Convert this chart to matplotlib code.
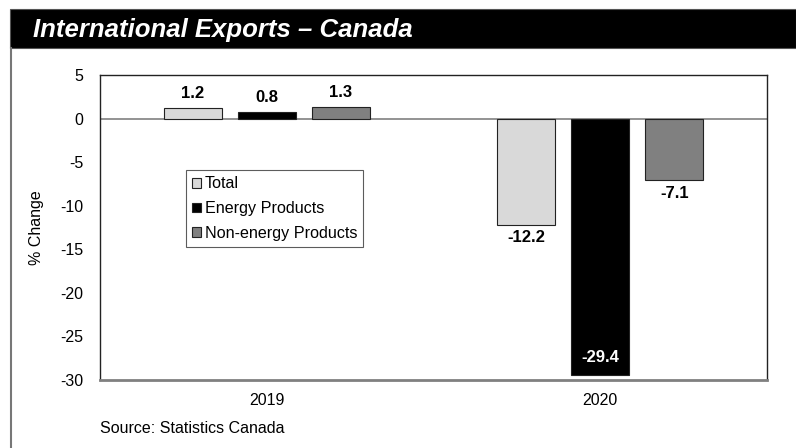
import matplotlib.pyplot as plt
import numpy as np
from matplotlib.patches import Rectangle
from matplotlib.lines import Line2D

plt.rcParams['font.family'] = ['Liberation Sans', 'DejaVu Sans']
plt.rcParams['axes.unicode_minus'] = False

years = ['2019', '2020']
series = ['Total', 'Energy Products', 'Non-energy Products']
total = [1.2, -12.2]
energy = [0.8, -29.4]
non_energy = [1.3, -7.1]
yticks = [5, 0, -5, -10, -15, -20, -25, -30]

colors = ['#d9d9d9', '#000000', '#808080']
W, H = 796, 448
fig = plt.figure(figsize=(W / 100, H / 100), dpi=100)

# title band and left frame line
fig.patches.append(Rectangle((10 / W, 1 - 48 / H), (W - 10) / W, 39 / H,
                             transform=fig.transFigure, facecolor='black',
                             edgecolor='#555555', lw=0.8))
fig.lines.append(Line2D([11 / W, 11 / W], [0, 1 - 48 / H], transform=fig.transFigure,
                        color='#777777', lw=1.5))
fig.text(33 / W, 1 - 30 / H, 'International Exports \u2013 Canada', color='white',
         fontsize=18.5, fontweight='bold', fontstyle='italic', va='center', ha='left')

ax = fig.add_axes([100 / W, 1 - 380 / H, 667 / W, 305 / H])
x = np.arange(len(years))
width = 0.174
step = 0.222
values = [total, energy, non_energy]
for i, (name, vals, c) in enumerate(zip(series, values, colors)):
    pos = x + (i - 1) * step
    bars = ax.bar(pos, vals, width, color=c, edgecolor='#222222', linewidth=0.8,
                  label=name, zorder=3)
    for b, v in zip(bars, vals):
        cx = b.get_x() + b.get_width() / 2
        if v >= 0:
            ax.annotate(f'{v:.1f}', (cx, v), xytext=(0, 5), textcoords='offset points',
                        ha='center', va='bottom', fontsize=12, fontweight='bold')
        elif v < -25:
            ax.annotate(f'{v:.1f}', (cx, v), xytext=(0, 7), textcoords='offset points',
                        ha='center', va='bottom', fontsize=12, fontweight='bold',
                        color='white')
        else:
            ax.annotate(f'{v:.1f}', (cx, v), xytext=(0, -4), textcoords='offset points',
                        ha='center', va='top', fontsize=12, fontweight='bold')

ax.axhline(0, color='#808080', lw=1.2, zorder=2)
ax.set_xlim(-0.5, 1.5)
ax.set_ylim(-30, 5)
ax.set_yticks(yticks)
ax.set_xticks(x)
ax.set_xticklabels(years)
ax.tick_params(axis='both', length=0, labelsize=11.5, pad=8)
ax.tick_params(axis='x', pad=9)
ax.tick_params(axis='y', pad=12)
ax.set_ylabel('% Change', fontsize=11.5, labelpad=12)
for s in ['top', 'right', 'left']:
    ax.spines[s].set_color('#222222')
    ax.spines[s].set_linewidth(1.0)
ax.spines['bottom'].set_color('#808080')
ax.spines['bottom'].set_linewidth(2.0)

leg = ax.legend(loc='upper left', bbox_to_anchor=((186 - 100) / 667, (380 - 170) / 305),
                frameon=True, fancybox=False, fontsize=11.6, handlelength=0.55,
                handleheight=0.55, handletextpad=0.2, borderpad=0.4, labelspacing=0.6,
                borderaxespad=0)
leg.get_frame().set_edgecolor('#333333')
leg.get_frame().set_linewidth(0.8)

fig.text(100 / W, 1 - 428 / H, 'Source: Statistics Canada', fontsize=11.5,
         ha='left', va='center')

fig.savefig('out.png', dpi=100)
